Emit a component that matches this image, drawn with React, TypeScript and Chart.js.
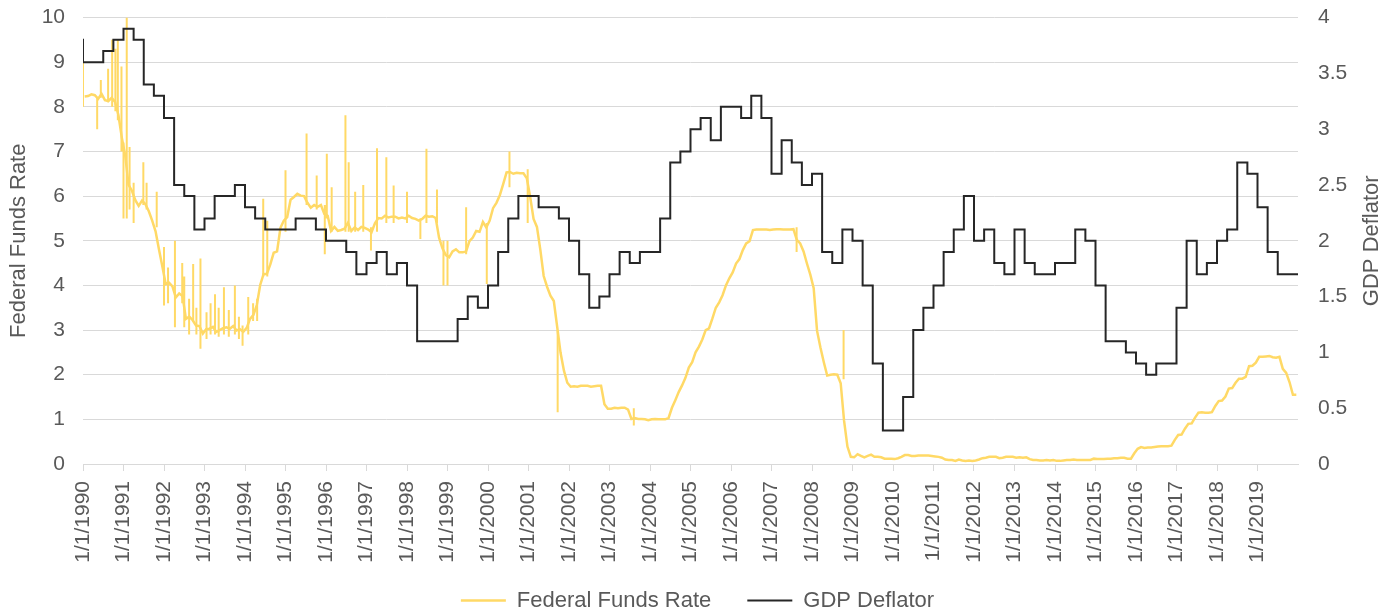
import React, { useEffect, useRef } from "react";
import { Chart, registerables } from "chart.js";

Chart.register(...registerables);

// Federal Funds Rate, monthly average, Jan 1990 .. Dec 2019 (left axis, %)
const fedFundsMonthly: number[] = [
  8.23, 8.24, 8.28, 8.26, 8.18, 8.29, 8.15, 8.13, 8.2, 8.11, 7.81, 7.31, // 1990
  6.91, 6.25, 6.12, 5.91, 5.78, 5.9, 5.82, 5.66, 5.45, 5.21, 4.81, 4.43, // 1991
  4.03, 4.06, 3.98, 3.73, 3.82, 3.76, 3.25, 3.3, 3.22, 3.1, 3.09, 2.92, // 1992
  3.02, 3.03, 3.07, 2.96, 3.0, 3.04, 3.06, 3.03, 3.09, 2.99, 3.02, 2.96, // 1993
  3.05, 3.25, 3.34, 3.56, 4.01, 4.25, 4.26, 4.47, 4.73, 4.76, 5.29, 5.45, // 1994
  5.53, 5.92, 5.98, 6.05, 6.01, 6.0, 5.85, 5.74, 5.8, 5.76, 5.8, 5.6, // 1995
  5.56, 5.22, 5.31, 5.22, 5.24, 5.27, 5.4, 5.22, 5.3, 5.24, 5.31, 5.29, // 1996
  5.25, 5.19, 5.39, 5.51, 5.5, 5.56, 5.52, 5.54, 5.54, 5.5, 5.52, 5.5, // 1997
  5.56, 5.51, 5.49, 5.45, 5.49, 5.56, 5.54, 5.55, 5.51, 5.07, 4.83, 4.68, // 1998
  4.63, 4.76, 4.81, 4.74, 4.74, 4.76, 4.99, 5.07, 5.22, 5.2, 5.42, 5.3, // 1999
  5.45, 5.73, 5.85, 6.02, 6.27, 6.53, 6.54, 6.5, 6.52, 6.51, 6.51, 6.4, // 2000
  5.98, 5.49, 5.31, 4.8, 4.21, 3.97, 3.77, 3.65, 3.07, 2.49, 2.09, 1.82, // 2001
  1.73, 1.74, 1.73, 1.75, 1.75, 1.75, 1.73, 1.74, 1.75, 1.75, 1.34, 1.24, // 2002
  1.24, 1.26, 1.25, 1.26, 1.26, 1.22, 1.01, 1.03, 1.01, 1.01, 1.0, 0.98, // 2003
  1.0, 1.01, 1.0, 1.0, 1.0, 1.03, 1.26, 1.43, 1.61, 1.76, 1.93, 2.16, // 2004
  2.28, 2.5, 2.63, 2.79, 3.0, 3.04, 3.26, 3.5, 3.62, 3.78, 4.0, 4.16, // 2005
  4.29, 4.49, 4.59, 4.79, 4.94, 4.99, 5.24, 5.25, 5.25, 5.25, 5.25, 5.24, // 2006
  5.25, 5.26, 5.26, 5.25, 5.25, 5.25, 5.26, 5.02, 4.94, 4.76, 4.49, 4.24, // 2007
  3.94, 2.98, 2.61, 2.28, 1.98, 2.0, 2.01, 2.0, 1.81, 0.97, 0.39, 0.16, // 2008
  0.15, 0.22, 0.18, 0.15, 0.18, 0.21, 0.16, 0.16, 0.15, 0.12, 0.12, 0.12, // 2009
  0.11, 0.13, 0.16, 0.2, 0.2, 0.18, 0.18, 0.19, 0.19, 0.19, 0.19, 0.18, // 2010
  0.17, 0.16, 0.14, 0.1, 0.09, 0.09, 0.07, 0.1, 0.08, 0.07, 0.08, 0.07, // 2011
  0.08, 0.1, 0.13, 0.14, 0.16, 0.16, 0.16, 0.13, 0.14, 0.16, 0.16, 0.16, // 2012
  0.14, 0.15, 0.14, 0.15, 0.11, 0.09, 0.09, 0.08, 0.08, 0.09, 0.08, 0.09, // 2013
  0.07, 0.07, 0.08, 0.09, 0.09, 0.1, 0.09, 0.09, 0.09, 0.09, 0.09, 0.12, // 2014
  0.11, 0.11, 0.11, 0.12, 0.12, 0.13, 0.13, 0.14, 0.14, 0.12, 0.12, 0.24, // 2015
  0.34, 0.38, 0.36, 0.37, 0.37, 0.38, 0.39, 0.4, 0.4, 0.4, 0.41, 0.54, // 2016
  0.65, 0.66, 0.79, 0.9, 0.91, 1.04, 1.15, 1.16, 1.15, 1.15, 1.16, 1.3, // 2017
  1.41, 1.42, 1.51, 1.69, 1.7, 1.82, 1.91, 1.91, 1.95, 2.19, 2.2, 2.27, // 2018
  2.4, 2.4, 2.41, 2.42, 2.39, 2.38, 2.4, 2.13, 2.04, 1.83, 1.55, 1.55, // 2019
];

// Daily extremes of the Federal Funds Rate: [date (year), low, high]
const fedFundsSpikes: [number, number, number][] = [
  [1990.0, 8.0, 9.0], [1990.35, 7.5, 8.2], [1990.44, 8.2, 8.6], [1990.62, 8.1, 8.85],
  [1990.72, 8.0, 9.5], [1990.8, 7.9, 9.3], [1990.86, 7.7, 9.5], [1990.95, 7.0, 8.9],
  [1991.0, 5.5, 7.2], [1991.08, 5.5, 10.0], [1991.15, 5.7, 7.1], [1991.25, 5.4, 6.3],
  [1991.49, 5.8, 6.76], [1991.57, 5.7, 6.3], [1991.82, 5.3, 6.1], [1992.0, 3.55, 4.86],
  [1992.1, 3.6, 4.4], [1992.27, 3.06, 5.0], [1992.45, 3.6, 4.5], [1992.5, 3.06, 4.2],
  [1992.62, 2.9, 3.7], [1992.72, 3.2, 4.48], [1992.8, 2.9, 3.5], [1992.9, 2.58, 4.6],
  [1993.05, 2.8, 3.4], [1993.15, 2.9, 3.6], [1993.26, 2.9, 3.8], [1993.35, 2.85, 3.5],
  [1993.48, 2.9, 3.96], [1993.6, 2.85, 3.45], [1993.75, 2.9, 4.0], [1993.85, 2.8, 3.3],
  [1993.94, 2.65, 3.1], [1994.08, 2.9, 3.74], [1994.2, 3.2, 3.6], [1994.3, 3.2, 3.7],
  [1994.45, 4.2, 5.94], [1994.55, 4.2, 5.45], [1995.0, 5.2, 6.58], [1995.52, 5.8, 7.4],
  [1995.77, 5.7, 6.46], [1995.97, 4.7, 5.8], [1996.02, 5.5, 6.95], [1996.14, 5.2, 6.2],
  [1996.48, 5.2, 7.81], [1996.56, 5.2, 6.76], [1996.72, 5.2, 6.1], [1996.92, 5.2, 6.25],
  [1997.11, 4.78, 5.3], [1997.26, 5.2, 7.07], [1997.49, 5.4, 6.87], [1997.67, 5.4, 6.24],
  [1998.0, 5.4, 6.1], [1998.33, 5.04, 5.5], [1998.48, 5.4, 7.06], [1998.74, 5.4, 6.15],
  [1998.9, 4.0, 5.0], [1999.0, 4.0, 5.0], [1999.46, 4.7, 5.75], [1999.97, 4.03, 5.4],
  [2000.53, 6.2, 7.0], [2000.98, 5.4, 6.6], [2001.72, 1.16, 3.0], [2003.6, 0.86, 1.25],
  [2007.62, 4.75, 5.3], [2008.78, 1.9, 3.0],
];

// GDP Deflator, quarterly, from 1989 Q4 to 2019 Q4 (right axis)
const gdpDeflatorQuarterly: number[] = [
  3.8, // 1989 Q4
  3.6, 3.6, 3.7, 3.8, // 1990
  3.9, 3.8, 3.4, 3.3, // 1991
  3.1, 2.5, 2.4, 2.1, // 1992
  2.2, 2.4, 2.4, 2.5, // 1993
  2.3, 2.2, 2.1, 2.1, // 1994
  2.1, 2.2, 2.2, 2.1, // 1995
  2.0, 2.0, 1.9, 1.7, // 1996
  1.8, 1.9, 1.7, 1.8, // 1997
  1.6, 1.1, 1.1, 1.1, // 1998
  1.1, 1.3, 1.5, 1.4, // 1999
  1.6, 1.9, 2.2, 2.4, // 2000
  2.4, 2.3, 2.3, 2.2, // 2001
  2.0, 1.7, 1.4, 1.5, // 2002
  1.7, 1.9, 1.8, 1.9, // 2003
  1.9, 2.2, 2.7, 2.8, // 2004
  3.0, 3.1, 2.9, 3.2, // 2005
  3.2, 3.1, 3.3, 3.1, // 2006
  2.6, 2.9, 2.7, 2.5, // 2007
  2.6, 1.9, 1.8, 2.1, // 2008
  2.0, 1.6, 0.9, 0.3, // 2009
  0.3, 0.6, 1.2, 1.4, // 2010
  1.6, 1.9, 2.1, 2.4, // 2011
  2.0, 2.1, 1.8, 1.7, // 2012
  2.1, 1.8, 1.7, 1.7, // 2013
  1.8, 1.8, 2.1, 2.0, // 2014
  1.6, 1.1, 1.1, 1.0, // 2015
  0.9, 0.8, 0.9, 0.9, // 2016
  1.4, 2.0, 1.7, 1.8, // 2017
  2.0, 2.1, 2.7, 2.6, // 2018
  2.3, 1.9, 1.7, 1.7, // 2019
];

const tickLabels: string[] = [
  "1/1/1990", "1/1/1991", "1/1/1992", "1/1/1993", "1/1/1994", "1/1/1995",
  "1/1/1996", "1/1/1997", "1/1/1998", "1/1/1999", "1/1/2000", "1/1/2001",
  "1/1/2002", "1/1/2003", "1/1/2004", "1/1/2005", "1/1/2006", "1/1/2007",
  "1/1/2008", "1/1/2009", "1/1/2010", "1/1/2011", "1/1/2012", "1/1/2013",
  "1/1/2014", "1/1/2015", "1/1/2016", "1/1/2017", "1/1/2018", "1/1/2019",
];

const seriesNames = ["Federal Funds Rate", "GDP Deflator"];
const leftTitle = "Federal Funds Rate";
const rightTitle = "GDP Deflator";

const START_YEAR = 1990;
const END_YEAR = 2020;

const YELLOW = "#FFD966";
const DARK = "#262626";
const GRID = "#D9D9D9";
const TEXT = "#595959";
const FONT = '"Liberation Sans", Arial, Helvetica, sans-serif';

const tickYear = (label: string) => Number(label.split("/")[2]);

const rightTitlePlugin = {
  id: "rightTitle",
  afterDraw(chart: any) {
    const { ctx, chartArea } = chart;
    ctx.save();
    ctx.font = `22px ${FONT}`;
    ctx.fillStyle = TEXT;
    ctx.textAlign = "center";
    ctx.textBaseline = "middle";
    ctx.translate(chartArea.right + 74, (chartArea.top + chartArea.bottom) / 2);
    ctx.rotate(-Math.PI / 2);
    ctx.fillText(rightTitle, 0, 0);
    ctx.restore();
  },
};

// Lift the legend row up so it sits just under the rotated date labels
const legendShiftPlugin = {
  id: "legendShift",
  afterLayout(chart: any) {
    const lg = chart.legend;
    if (lg) {
      lg.top -= 26.5;
      lg.bottom -= 26.5;
    }
  },
};

export default function App() {
  const canvasRef = useRef<HTMLCanvasElement | null>(null);

  useEffect(() => {
    document.body.style.margin = "0";
    const canvas = canvasRef.current;
    if (!canvas) return;

    const fedData = fedFundsMonthly.map((v, i) => ({ x: START_YEAR + (i + 0.5) / 12, y: v }));
    const spikeData: { x: number; y: number | null }[] = [];
    fedFundsSpikes.forEach(([x, lo, hi]) => {
      spikeData.push({ x, y: lo }, { x, y: hi }, { x, y: null });
    });
    const gdpData = gdpDeflatorQuarterly.map((v, i) => ({ x: 1989.75 + i * 0.25, y: v }));
    gdpData.push({ x: END_YEAR, y: gdpDeflatorQuarterly[gdpDeflatorQuarterly.length - 1] });

    const chart = new Chart(canvas, {
      type: "line",
      data: {
        datasets: [
          {
            label: seriesNames[0],
            data: fedData,
            borderColor: YELLOW,
            backgroundColor: YELLOW,
            borderWidth: 2.5,
            pointRadius: 0,
            tension: 0,
            yAxisID: "y",
            order: 1,
          },
          {
            label: seriesNames[1],
            data: gdpData,
            borderColor: DARK,
            backgroundColor: DARK,
            borderWidth: 2,
            pointRadius: 0,
            stepped: true,
            yAxisID: "y1",
            order: 0,
          },
          {
            label: "spikes",
            data: spikeData,
            borderColor: YELLOW,
            backgroundColor: YELLOW,
            borderWidth: 2,
            pointRadius: 0,
            spanGaps: false,
            yAxisID: "y",
            order: 2,
          },
        ],
      },
      options: {
        responsive: false,
        animation: false,
        events: [],
        layout: { padding: { top: 17.5, left: 0, right: 0, bottom: 0 } },
        plugins: {
          tooltip: { enabled: false },
          legend: {
            position: "bottom",
            labels: {
              filter: (item: any) => item.datasetIndex < 2,
              sort: (a: any, b: any) => a.datasetIndex - b.datasetIndex,
              usePointStyle: true,
              pointStyle: "line",
              pointStyleWidth: 45,
              boxHeight: 2,
              color: TEXT,
              padding: 36,
              font: { family: FONT, size: 22 },
            },
          },
        },
        scales: {
          x: {
            type: "linear",
            min: START_YEAR,
            max: END_YEAR,
            offset: false,
            afterBuildTicks: (scale: any) => {
              scale.ticks = tickLabels.map((l) => ({ value: tickYear(l) }));
            },
            afterFit: (scale: any) => {
              scale.height = 116;
            },
            grid: {
              display: true,
              drawOnChartArea: false,
              drawTicks: true,
              tickLength: 7,
              color: GRID,
              lineWidth: 1,
              offset: false,
            },
            border: { display: true, color: GRID, width: 1 },
            ticks: {
              autoSkip: false,
              minRotation: 90,
              maxRotation: 90,
              padding: 10,
              color: TEXT,
              font: { family: FONT, size: 21 },
              callback: (value: any) => {
                const lab = tickLabels.find((l) => tickYear(l) === Number(value));
                return lab ?? "";
              },
            },
          },
          y: {
            type: "linear",
            position: "left",
            min: 0,
            max: 10,
            afterFit: (scale: any) => {
              scale.width = 83;
              scale.paddingTop = 0;
              scale.paddingBottom = 0;
            },
            ticks: {
              stepSize: 1,
              padding: 18,
              color: TEXT,
              font: { family: FONT, size: 21 },
            },
            grid: { color: GRID, lineWidth: 1, drawTicks: false },
            border: { display: false },
            title: {
              display: true,
              text: leftTitle,
              color: TEXT,
              font: { family: FONT, size: 22 },
              padding: { top: 6, bottom: 0 },
            },
          },
          y1: {
            type: "linear",
            position: "right",
            min: 0,
            max: 4,
            afterFit: (scale: any) => {
              scale.width = 97;
              scale.paddingTop = 0;
              scale.paddingBottom = 0;
            },
            ticks: {
              stepSize: 0.5,
              padding: 20,
              color: TEXT,
              font: { family: FONT, size: 21 },
              callback: (value: any) => String(Number(value)),
            },
            grid: { display: false, drawOnChartArea: false, drawTicks: false },
            border: { display: false },
          },
        },
      },
      plugins: [rightTitlePlugin, legendShiftPlugin],
    } as any);

    return () => {
      chart.destroy();
    };
  }, []);

  return (
    <div style={{ position: "fixed", left: 0, top: 0, width: 1395, height: 609, overflow: "hidden", background: "#fff" }}>
      <canvas ref={canvasRef} width={1395} height={648} style={{ display: "block", width: 1395, height: 648 }} />
    </div>
  );
}
